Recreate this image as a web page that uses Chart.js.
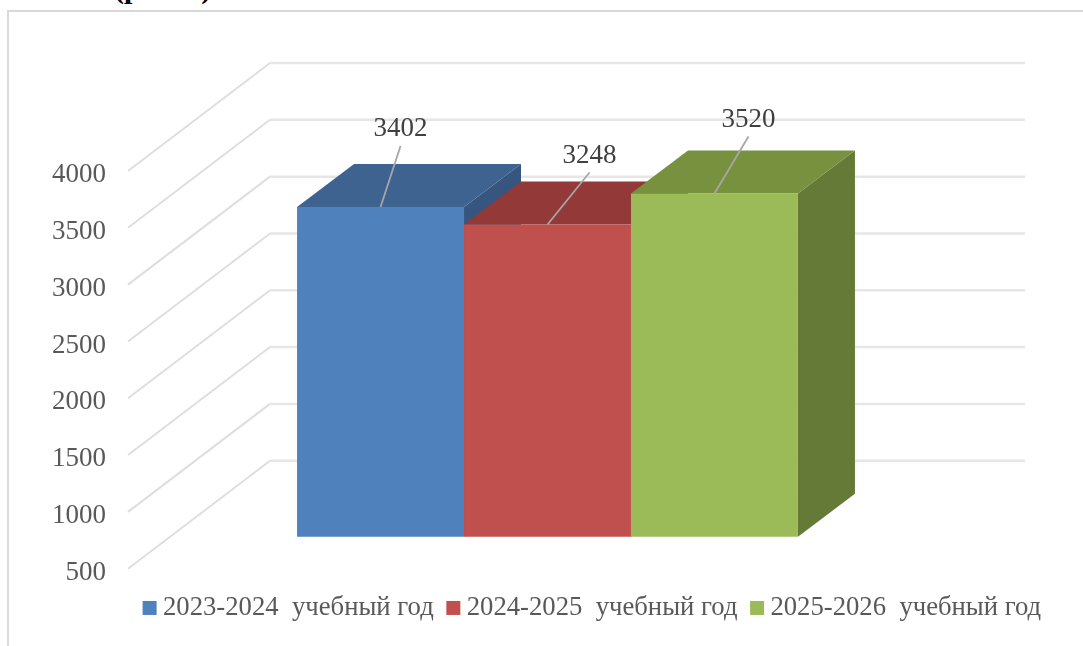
<!DOCTYPE html>
<html>
<head>
<meta charset="utf-8">
<script src="https://cdn.jsdelivr.net/npm/chart.js@4/dist/chart.umd.min.js"></script>
<style>
    html, body { margin: 0; padding: 0; background: #fff; overflow: hidden; }
    #wrap { position: relative; width: 1083px; height: 646px; overflow: hidden; }
    #frame { position: absolute; left: 7px; top: 10px; right: -4px; bottom: -4px; border: 2px solid #d9d9d9; }
    #cut { position: absolute; left: 114px; top: -29px; font: bold 30px "Liberation Serif"; color: #000; white-space: pre; }
    canvas { position: absolute; left: 0; top: 0; }
</style>
</head>
<body>
<div id="wrap">
    <div id="frame"></div>
    <div id="cut">(рис. 1)</div>
    <canvas id="chart" width="1083" height="646"></canvas>
</div>
<script>
const years = ['2023-2024  учебный год', '2024-2025  учебный год', '2025-2026  учебный год'];
const pupils = [3402, 3248, 3520];
const tickStep = 500;
const axisMin = 500;
const axisMax = 4000;

const frontColors = ['#4f81bd', '#c0504d', '#9bbb59'];
const topColors = ['#3e6390', '#933a38', '#78913f'];
const sideColors = ['#365680', '#7f302e', '#647a36'];

// 3d look: the walls go back by this much, the bars stand a bit inside the floor
const wallDepth = { x: 142, y: 108 };
const barDepth = { x: 57, y: 43 };
const barShiftY = 32;
const leaderOffsets = [[20, -61], [42, -52], [34, -57]];

const pxPerUnit = 398 / (axisMax - axisMin);

function poly(ctx, color, pts) {
    ctx.fillStyle = color;
    ctx.beginPath();
    pts.forEach(function (p, i) {
        if (i === 0) { ctx.moveTo(p[0], p[1]); } else { ctx.lineTo(p[0], p[1]); }
    });
    ctx.closePath();
    ctx.fill();
}

const box3d = {
    id: 'box3d',
    afterLayout: function (chart) {
        chart.legend.left = 130;
        chart.legend.right = chart.width;
        chart.legend.top = 575;
    },
    beforeDatasetsDraw: function (chart) {
        const ctx = chart.ctx;
        const yAxis = chart.scales.y;
        const left = chart.chartArea.left;

        ctx.save();
        yAxis.ticks.forEach(function (t) {
            const y = yAxis.getPixelForValue(t.value);
            ctx.strokeStyle = '#dedede';
            ctx.lineWidth = 2;
            ctx.beginPath();
            ctx.moveTo(left, y);
            ctx.lineTo(left + wallDepth.x, y - wallDepth.y);
            ctx.stroke();
            ctx.strokeStyle = '#e6e6e6';
            ctx.lineWidth = 2.5;
            ctx.beginPath();
            ctx.moveTo(left + wallDepth.x, y - wallDepth.y);
            ctx.lineTo(1025, y - wallDepth.y);
            ctx.stroke();
        });

        chart.data.datasets.forEach(function (ds, i) {
            const bar = chart.getDatasetMeta(i).data[0];
            const l = bar.x - bar.width / 2;
            const r = bar.x + bar.width / 2;
            const dx = barDepth.x;
            const dy = barDepth.y;
            poly(ctx, sideColors[i], [[r, bar.y], [r + dx, bar.y - dy], [r + dx, bar.base - dy], [r, bar.base]]);
            poly(ctx, topColors[i], [[l, bar.y], [l + dx, bar.y - dy], [r + dx, bar.y - dy], [r, bar.y]]);
        });
        ctx.restore();
    },
    afterDatasetsDraw: function (chart) {
        const ctx = chart.ctx;
        ctx.save();
        ctx.font = '27px "Liberation Serif"';
        ctx.fillStyle = '#404040';
        ctx.textAlign = 'center';
        ctx.textBaseline = 'middle';
        chart.data.datasets.forEach(function (ds, i) {
            const bar = chart.getDatasetMeta(i).data[0];
            const ex = bar.x + leaderOffsets[i][0];
            const ey = bar.y + leaderOffsets[i][1];
            ctx.strokeStyle = '#a6a6a6';
            ctx.lineWidth = 1.8;
            ctx.beginPath();
            ctx.moveTo(bar.x, bar.y);
            ctx.lineTo(ex, ey);
            ctx.stroke();
            ctx.fillText(String(ds.data[0]), ex, ey - 17);
        });
        ctx.restore();
    }
};

new Chart(document.getElementById('chart'), {
    type: 'bar',
    data: {
        labels: ['Учащиеся'],
        datasets: years.map(function (year, i) {
            return {
                label: year,
                data: [pupils[i]],
                base: axisMin,
                yAxisID: 'yBars',
                backgroundColor: frontColors[i],
                borderWidth: 0
            };
        })
    },
    options: {
        responsive: false,
        animation: false,
        layout: { padding: { left: 0, right: 116, top: 171, bottom: 21 } },
        plugins: {
            tooltip: { enabled: false },
            legend: {
                position: 'bottom',
                align: 'start',
                labels: {
                    usePointStyle: true,
                    pointStyle: 'rect',
                    boxWidth: 0.01,
                    boxHeight: 14,
                    padding: 19.6,
                    color: '#595959',
                    font: { family: '"Liberation Serif"', size: 26.7 }
                }
            }
        },
        datasets: { bar: { barPercentage: 1, categoryPercentage: 0.597 } },
        scales: {
            x: { display: false },
            y: {
                position: 'left',
                min: axisMin,
                max: axisMax,
                afterFit: function (scale) { scale.width = 128; },
                grid: { display: false, drawTicks: false },
                border: { display: false },
                ticks: {
                    stepSize: tickStep,
                    padding: 22,
                    labelOffset: 4,
                    color: '#595959',
                    font: { family: '"Liberation Serif"', size: 27 },
                    callback: function (value) { return String(value); }
                }
            },
            // same scale as y, only moved up to the plane the bars stand in
            yBars: {
                display: false,
                min: axisMin - barShiftY / pxPerUnit,
                max: axisMax - barShiftY / pxPerUnit
            }
        }
    },
    plugins: [box3d]
});
</script>
</body>
</html>
